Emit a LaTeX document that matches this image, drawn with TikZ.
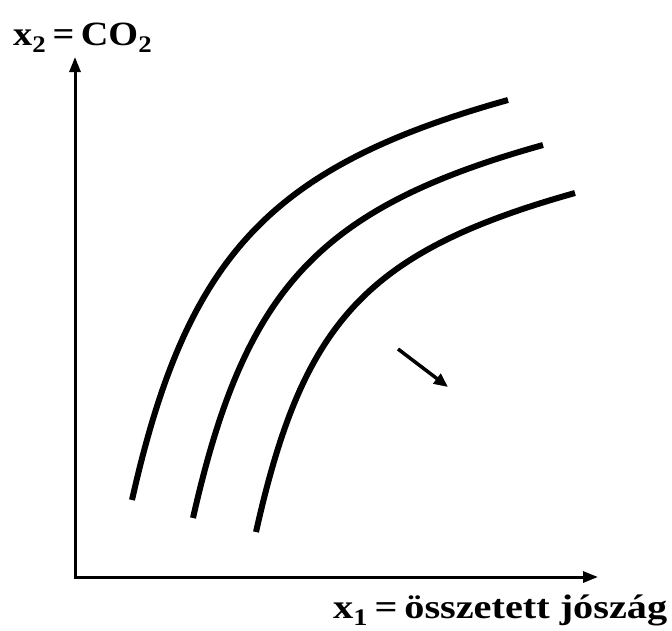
\documentclass[tikz,border=0pt]{standalone}
\usepackage{fontspec}
\setmainfont{Liberation Serif}
\usetikzlibrary{arrows.meta}
\begin{document}
\begin{tikzpicture}[x=1pt,y=-1pt,
  axis/.style={line width=3pt,-{Triangle[length=15pt,width=11pt]}},
  curve/.style={line width=6pt},
  movearrow/.style={line width=3.5pt,-{Triangle[length=14pt,width=12pt]}},
  lbl/.style={font=\fontsize{34}{36}\selectfont\bfseries,inner sep=0pt,anchor=base west}]
\useasboundingbox (0,0) rectangle (672,630);
\coordinate (O1) at (75,578.5);
\coordinate (O2) at (73.5,577);
\coordinate (Y) at (75,57);
\coordinate (X) at (598,577);
\draw[axis] (O1) -- (Y);
\draw[axis] (O2) -- (X);
% indifference curves
\coordinate (a1) at (132,500); \coordinate (b1) at (508,100);
\coordinate (a2) at (193,518); \coordinate (b2) at (543,145);
\coordinate (a3) at (256,532); \coordinate (b3) at (575,193);
\draw[curve] (a1) .. controls (187,255) and (270,166.6) .. (b1);
\draw[curve] (a2) .. controls (245,288) and (318,208) .. (b2);
\draw[curve] (a3) .. controls (303,322) and (365,252) .. (b3);
% shift arrow
\coordinate (s1) at (398,349); \coordinate (s2) at (448,387);
\draw[movearrow] (s1) -- (s2);
\node[lbl] (ly) at (13,45) {\resizebox{139pt}{\height}{x\textsubscript{2}\,=\,CO\textsubscript{2}}};
\node[lbl] (lx) at (333,618) {\resizebox{334pt}{\height}{x\textsubscript{1}\,=\,összetett jószág}};
\end{tikzpicture}
\end{document}
